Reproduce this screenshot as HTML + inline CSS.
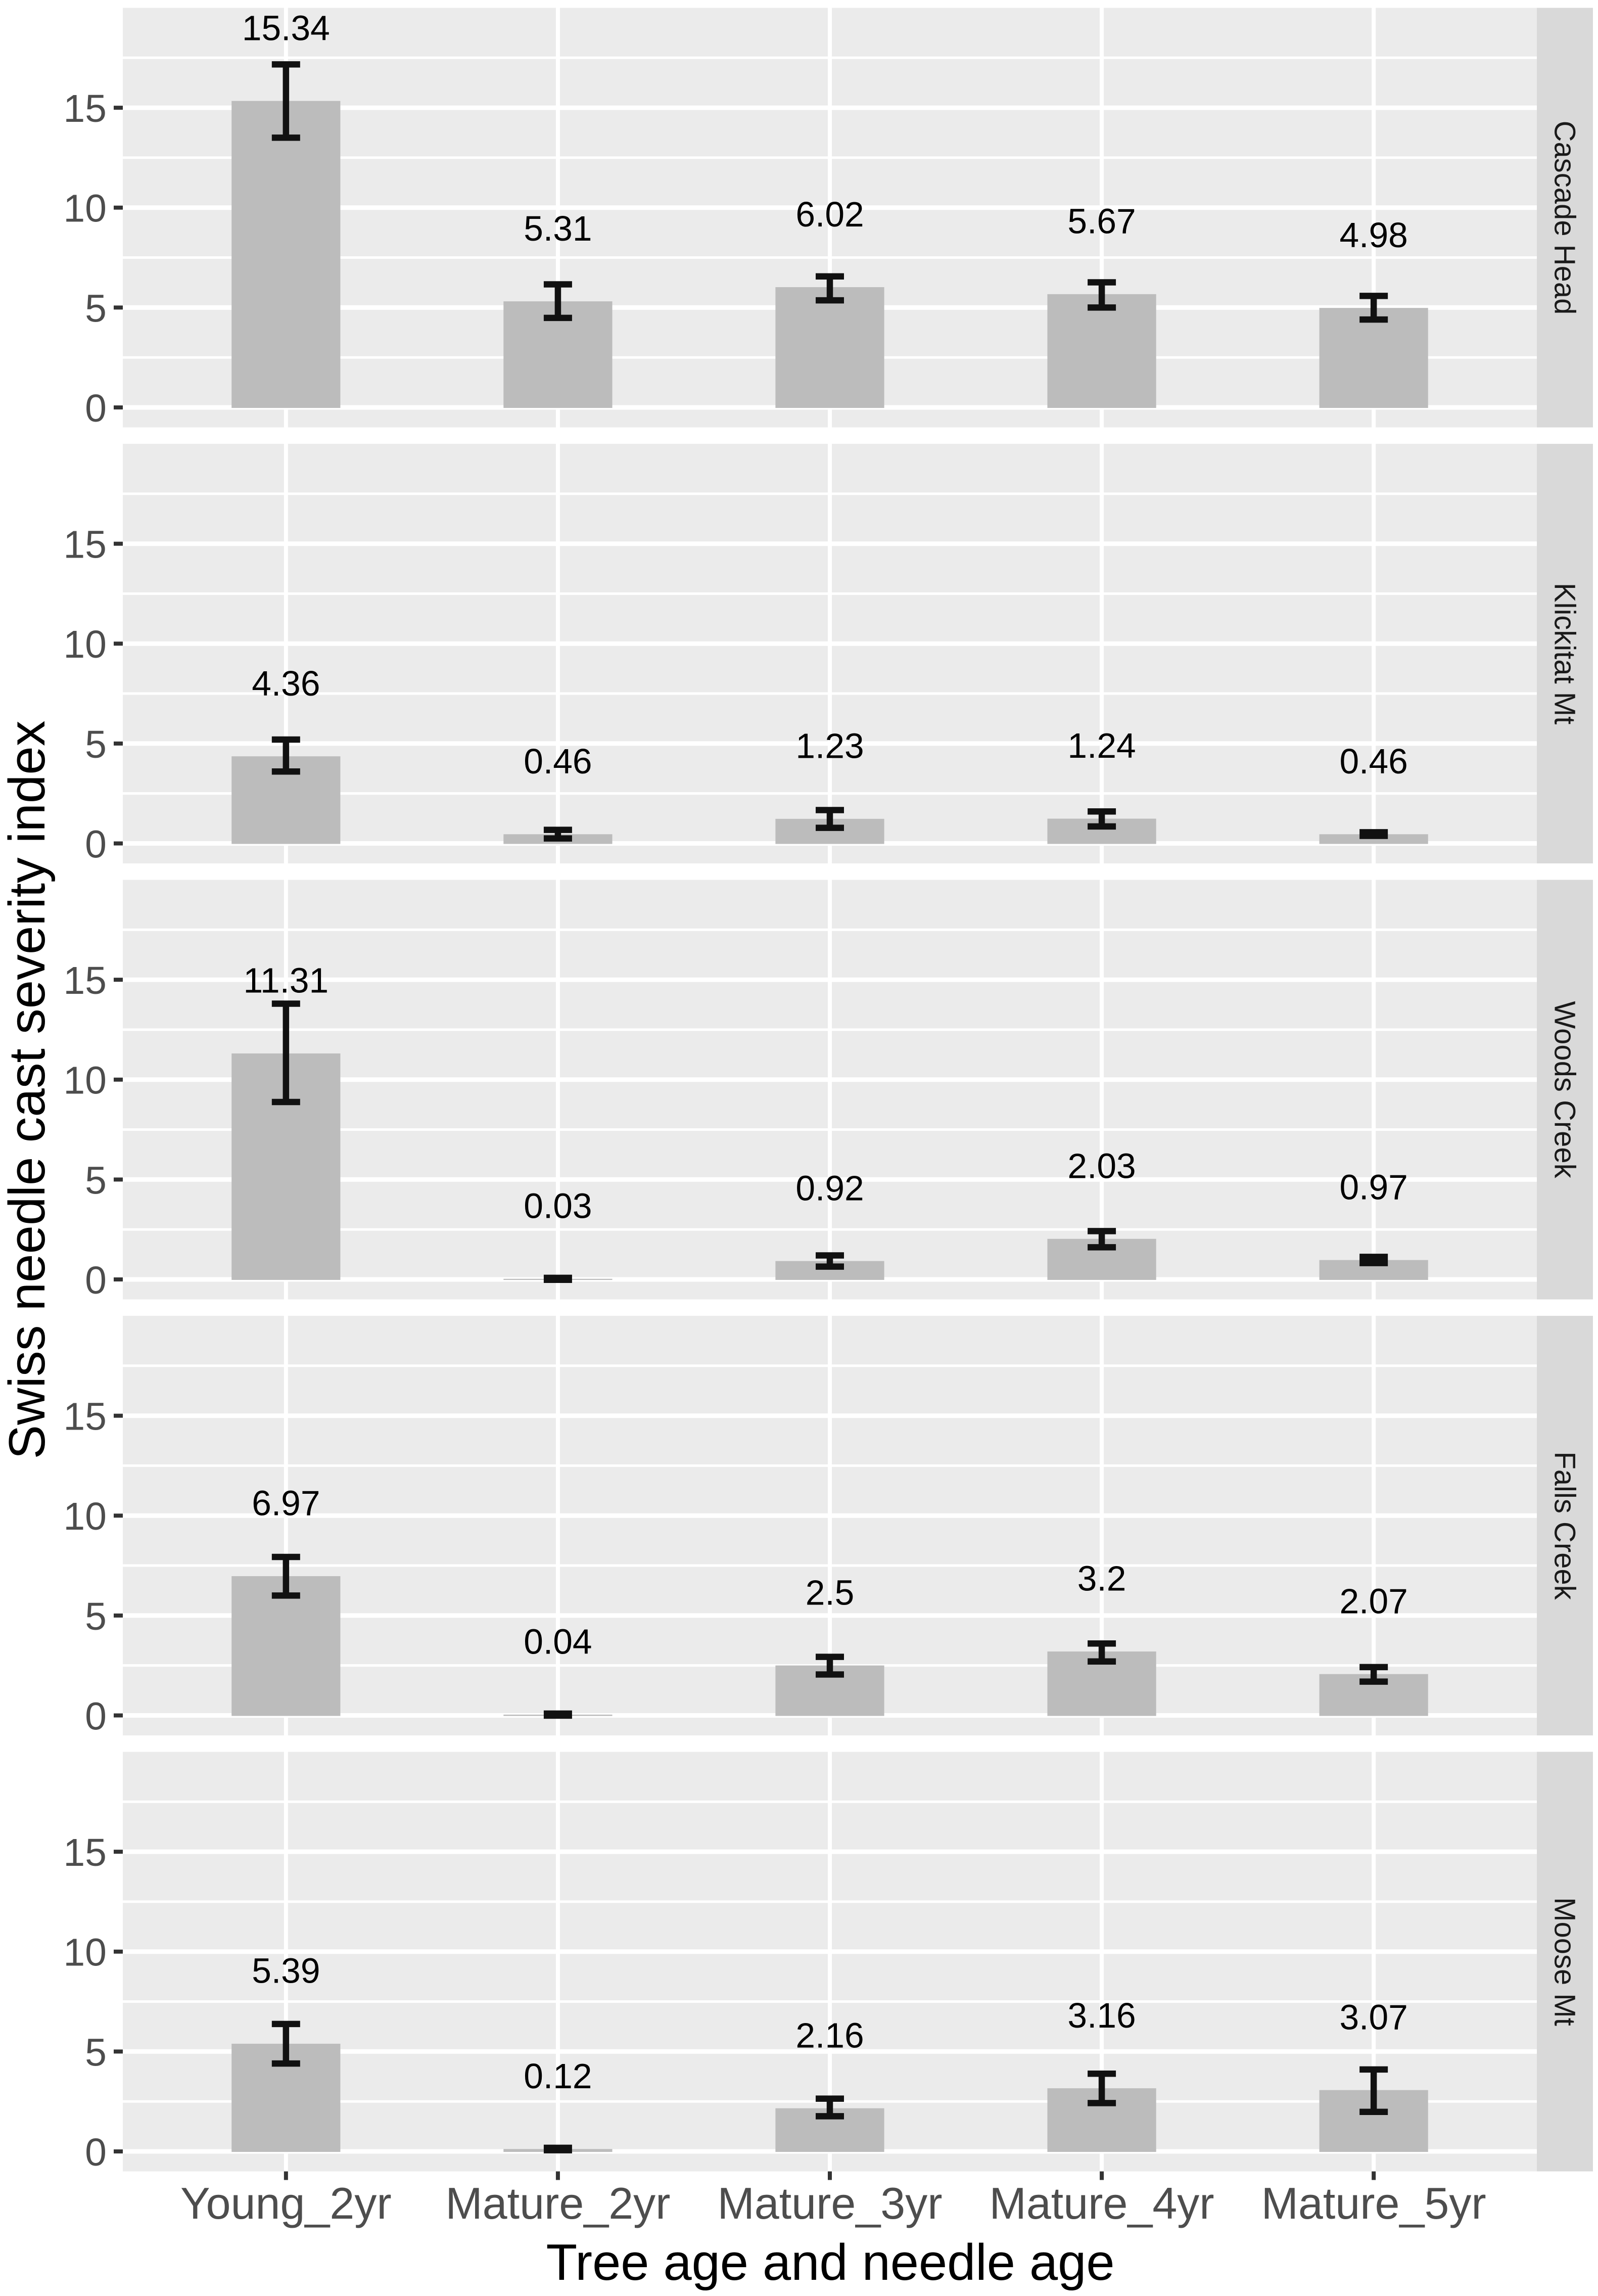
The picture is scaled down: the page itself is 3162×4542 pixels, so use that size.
<!DOCTYPE html>
<html lang="en">
<head>
<meta charset="utf-8">
<title>Swiss needle cast severity index by site</title>
<style>
html,body{margin:0;padding:0;background:#fff;}
svg{display:block;font-family:"Liberation Sans",Arial,sans-serif;}
</style>
</head>
<body>
<svg id="chart" xmlns="http://www.w3.org/2000/svg" width="3162" height="4542" viewBox="0 0 3162 4542">
<rect x="0" y="0" width="3162" height="4542" fill="#ffffff"/>
<text transform="translate(88,2156) rotate(-90)" text-anchor="middle" font-size="101.5" fill="#000000">Swiss needle cast severity index</text>
<text x="1643" y="4510" text-anchor="middle" font-size="101" fill="#000000">Tree age and needle age</text>
</svg>
<script>
const sites = ["Cascade Head", "Klickitat Mt", "Woods Creek", "Falls Creek", "Moose Mt"];
const categories = ["Young_2yr", "Mature_2yr", "Mature_3yr", "Mature_4yr", "Mature_5yr"];
const yMajorTicks = [0, 5, 10, 15];
const yMinorTicks = [2.5, 7.5, 12.5, 17.5];

const meanCascadeHead = [15.34, 5.31, 6.02, 5.67, 4.98];
const meanKlickitatMt = [4.36, 0.46, 1.23, 1.24, 0.46];
const meanWoodsCreek = [11.31, 0.03, 0.92, 2.03, 0.97];
const meanFallsCreek = [6.97, 0.04, 2.5, 3.2, 2.07];
const meanMooseMt = [5.39, 0.12, 2.16, 3.16, 3.07];

const upperCascadeHead = [17.17, 6.16, 6.56, 6.26, 5.58];
const upperKlickitatMt = [5.2, 0.68, 1.67, 1.6, 0.56];
const upperWoodsCreek = [13.8, 0.08, 1.2, 2.42, 1.13];
const upperFallsCreek = [7.93, 0.09, 2.93, 3.6, 2.42];
const upperMooseMt = [6.38, 0.18, 2.64, 3.89, 4.1];

const lowerCascadeHead = [13.5, 4.48, 5.36, 5.0, 4.4];
const lowerKlickitatMt = [3.6, 0.25, 0.78, 0.85, 0.38];
const lowerWoodsCreek = [8.88, -0.02, 0.64, 1.61, 0.82];
const lowerFallsCreek = [6.0, -0.01, 2.05, 2.7, 1.69];
const lowerMooseMt = [4.4, 0.06, 1.76, 2.42, 1.98];

const means = [meanCascadeHead, meanKlickitatMt, meanWoodsCreek, meanFallsCreek, meanMooseMt];
const uppers = [upperCascadeHead, upperKlickitatMt, upperWoodsCreek, upperFallsCreek, upperMooseMt];
const lowers = [lowerCascadeHead, lowerKlickitatMt, lowerWoodsCreek, lowerFallsCreek, lowerMooseMt];

const svg = document.getElementById('chart');
const NS = 'http://www.w3.org/2000/svg';

const panelLeft = 243, panelRight = 3041;
const stripRight = 3152;
const firstPanelTop = 15.5, panelHeight = 830, panelPitch = 862.5;
const yDomainMin = -1, yDomainMax = 20;
const labelLift = 3.6;

function xScale(i) {
  const unit = (panelRight - panelLeft) / (categories.length - 1 + 1.2);
  return panelLeft + (i + 0.6) * unit;
}
const bandUnit = (panelRight - panelLeft) / (categories.length + 0.2);
function panelTop(p) { return firstPanelTop + p * panelPitch; }
function yScale(p, v) {
  return panelTop(p) + panelHeight * (yDomainMax - v) / (yDomainMax - yDomainMin);
}
function make(tag, attrs, parent) {
  const n = document.createElementNS(NS, tag);
  for (const k in attrs) n.setAttribute(k, attrs[k]);
  parent.appendChild(n);
  return n;
}

sites.forEach(function (site, p) {
  const key = site.toLowerCase().replace(/\s+/g, '-');
  const top = panelTop(p);

  const group = make('g', {}, svg);
  
  

  const bg = make('rect', { x: panelLeft, y: top, width: panelRight - panelLeft, height: panelHeight, fill: '#ebebeb' }, group);
  
  

  yMinorTicks.forEach(function (t) {
    const y = yScale(p, t);
    const g = make('line', { x1: panelLeft, x2: panelRight, y1: y, y2: y, stroke: '#ffffff', 'stroke-width': 5 }, group);
    
    
  });
  yMajorTicks.forEach(function (t) {
    const y = yScale(p, t);
    const g = make('line', { x1: panelLeft, x2: panelRight, y1: y, y2: y, stroke: '#ffffff', 'stroke-width': 9 }, group);
    
    

    const tick = make('line', { x1: panelLeft - 18, x2: panelLeft, y1: y, y2: y, stroke: '#333333', 'stroke-width': 8 }, group);
    
    

    const lab = make('text', { x: panelLeft - 32, y: y + 28, 'text-anchor': 'end', 'font-size': 77, fill: '#4d4d4d' }, group);
    lab.textContent = String(t);
    
    
  });
  categories.forEach(function (c, i) {
    const x = xScale(i);
    const g = make('line', { x1: x, x2: x, y1: top, y2: top + panelHeight, stroke: '#ffffff', 'stroke-width': 8 }, group);
    
    
  });

  const strip = make('rect', { x: panelRight, y: top, width: stripRight - panelRight, height: panelHeight, fill: '#d9d9d9' }, group);
  
  

  const cy = top + panelHeight / 2;
  const stripX = (panelRight + stripRight) / 2 - 20;
  const stripText = make('text', { transform: 'translate(' + stripX + ',' + cy + ') rotate(90)', 'text-anchor': 'middle', 'font-size': 58, fill: '#1a1a1a' }, group);
  stripText.textContent = site;
  
  

  categories.forEach(function (c, i) {
    const x = xScale(i);
    const barW = bandUnit * 0.4;
    const y0 = yScale(p, 0);
    const yM = yScale(p, means[p][i]);

    const bar = make('rect', { x: x - barW / 2, y: yM, width: barW, height: y0 - yM + 1, fill: '#bcbcbc' }, group);
    
    

    const yU = yScale(p, uppers[p][i]);
    const yL = yScale(p, lowers[p][i]);
    const err = make('path', {
      d: 'M' + (x - 28) + ' ' + yU + 'H' + (x + 28) + 'M' + x + ' ' + yU + 'V' + yL + 'M' + (x - 28) + ' ' + yL + 'H' + (x + 28),
      stroke: '#111111', 'stroke-width': 12.5, fill: 'none'
    }, group);
    
    

    const val = make('text', { x: x, y: yScale(p, means[p][i] + labelLift) + 22, 'text-anchor': 'middle', 'font-size': 69.5, fill: '#000000' }, group);
    val.textContent = String(means[p][i]);
    
    
  });
});

const lastBottom = panelTop(sites.length - 1) + panelHeight;
categories.forEach(function (c, i) {
  const x = xScale(i);
  const tick = make('line', { x1: x, x2: x, y1: lastBottom, y2: lastBottom + 17, stroke: '#333333', 'stroke-width': 8 }, svg);
  
  

  const lab = make('text', { x: x, y: 4389, 'text-anchor': 'middle', 'font-size': 88, fill: '#4d4d4d' }, svg);
  lab.textContent = c;
  
  
});
</script>
</body>
</html>
